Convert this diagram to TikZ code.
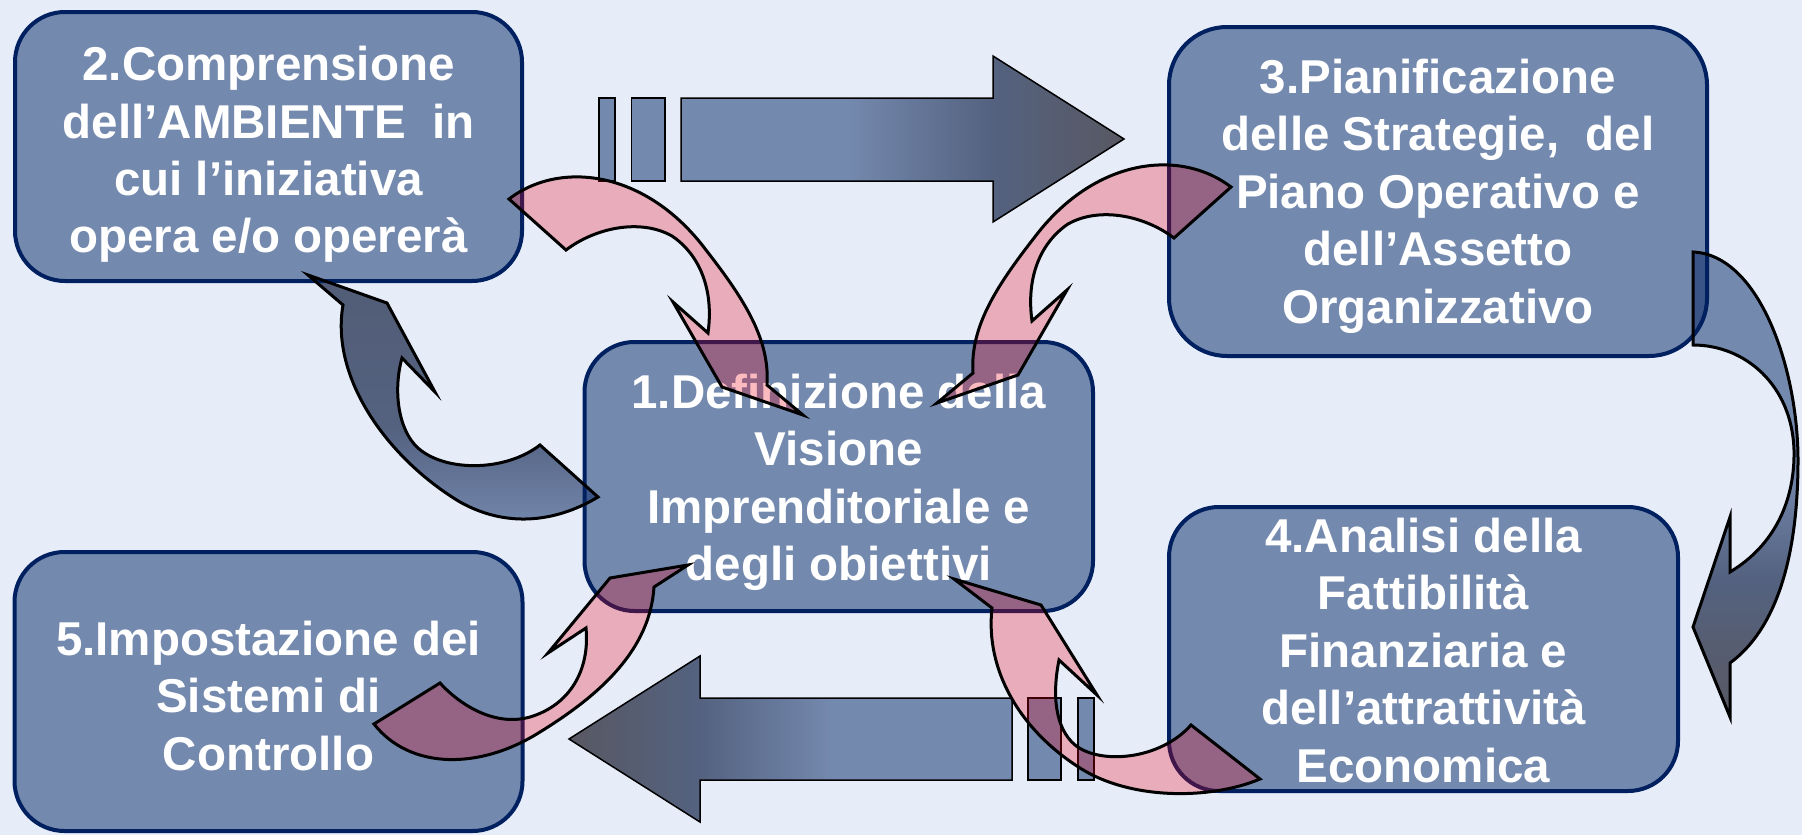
\documentclass[tikz,border=0pt]{standalone}
\usepackage{fontspec}
\setmainfont{Liberation Sans}
\definecolor{bgc}{RGB}{230,236,248}
\definecolor{boxc}{RGB}{116,137,174}
\definecolor{navy}{RGB}{0,32,96}
\definecolor{ovl}{RGB}{58,84,135}
\definecolor{tipc}{RGB}{88,88,98}
\definecolor{midc}{RGB}{84,98,128}
\definecolor{emid}{RGB}{100,117,152}
\definecolor{edark}{RGB}{82,92,118}
\definecolor{pinkc}{RGB}{240,0,20}
\pgfdeclarehorizontalshading{topshade}{100bp}{color(0bp)=(boxc); color(43.85bp)=(boxc); color(60bp)=(midc); color(75bp)=(tipc); color(100bp)=(tipc)}
\pgfdeclarehorizontalshading{botshade}{100bp}{color(0bp)=(tipc); color(25bp)=(tipc); color(39.8bp)=(midc); color(54.7bp)=(boxc); color(100bp)=(boxc)}
\pgfdeclareverticalshading{fshade}{100bp}{color(0bp)=(tipc); color(25bp)=(tipc); color(40bp)=(midc); color(52bp)=(boxc); color(100bp)=(boxc)}
\pgfdeclareverticalshading{eshade}{100bp}{color(0bp)=(boxc); color(25bp)=(boxc); color(35bp)=(emid); color(45bp)=(midc); color(75bp)=(edark); color(100bp)=(edark)}
\newcommand{\boxlines}[1]{\begin{tabular}[t]{@{}c@{}}#1\end{tabular}}
\def\pathA{(509,199) .. controls (560,160) and (646,170) .. (706,250) .. controls (745,300) and (770,340) .. (767,385) -- (803,415) -- (722,387) -- (673,302) -- (708,333) .. controls (714,290) and (700,255) .. (672,236) .. controls (640,218) and (595,228) .. (566,250) -- cycle}
\def\pathC{(374,724) .. controls (410,770) and (480,770) .. (540,732) .. controls (600,695) and (650,650) .. (654,587) -- (688,565) -- (610,578) -- (548,653) -- (586,628) .. controls (590,670) and (570,705) .. (530,717) .. controls (495,727) and (460,705) .. (440,683) -- cycle}
\def\pathD{(992,608) .. controls (985,670) and (1020,730) .. (1080,768) .. controls (1130,800) and (1210,800) .. (1260,779) -- (1191,725) .. controls (1160,760) and (1100,765) .. (1075,745) .. controls (1055,728) and (1052,695) .. (1059,660) -- (1097,695) -- (1041,605) -- (954,579) -- cycle}
\def\pathE{(343,305) .. controls (330,380) and (390,460) .. (460,502) .. controls (510,530) and (560,520) .. (598,497) -- (540,445) .. controls (505,472) and (445,472) .. (418,448) .. controls (398,430) and (393,390) .. (402,358) -- (435,392) -- (387,303) -- (308,275) -- cycle}
\def\pathF{(1693,345) -- (1693,252) .. controls (1760,255) and (1798,370) .. (1798,460) .. controls (1798,560) and (1775,630) .. (1730,663) -- (1730,717) -- (1693,627) -- (1730,517) -- (1730,572) .. controls (1775,545) and (1795,500) .. (1794,450) .. controls (1792,385) and (1745,345) .. (1693,345) -- cycle}
\begin{document}
\begin{tikzpicture}[x=1pt,y=-1pt,
  box/.style={draw=navy, fill=boxc, line width=4pt, inner sep=0pt, outer sep=0pt, rectangle},
  txt/.style={text=white, inner sep=0pt, anchor=base, font=\fontsize{47.5}{57.5}\selectfont\bfseries},
  bar/.style={fill=boxc, draw=black, line width=1.5pt},
  straight/.style={draw=black, line width=1.5pt},
  pinkarrow/.style={fill=pinkc, fill opacity=0.27, draw=black, line width=3pt},
  darkarrow/.style={draw=black, line width=3pt}]
\useasboundingbox (0,0) rectangle (1802,835);
\fill[bgc] (0,0) rectangle (1802,835);

% straight arrows
\filldraw[bar] (599,98) rectangle (615,181);
\filldraw[bar] (631.5,98) rectangle (665,181);
\shadedraw[straight, shading=topshade] (681,98) -- (993,98) -- (993,56) -- (1124,139) -- (993,222) -- (993,181) -- (681,181) -- cycle;
\filldraw[bar] (1028,698) rectangle (1061,780);
\filldraw[bar] (1078,698) rectangle (1094,780);
\shadedraw[straight, shading=botshade] (1012,698) -- (700,698) -- (700,656) -- (569,739) -- (700,822) -- (700,780) -- (1012,780) -- cycle;

% boxes
\node[box, rounded corners=50pt, minimum width=507pt, minimum height=269pt] (b2) at (268.5,146.5) {};
\node[box, rounded corners=58pt, minimum width=538pt, minimum height=329pt] (b3) at (1438,191.5) {};
\node[box, rounded corners=50pt, minimum width=508.5pt, minimum height=269pt] (b1) at (838.75,476.5) {};
\node[box, rounded corners=50pt, minimum width=509pt, minimum height=284pt] (b4) at (1423.5,649) {};
\node[box, rounded corners=50pt, minimum width=508pt, minimum height=279pt] (b5) at (268.5,691.5) {};

% texts
\node[txt] (t2) at (268.5,80.5) {\boxlines{2.Comprensione\\dell’AMBIENTE~ in\\cui l’iniziativa\\opera e/o opererà}};
\node[txt] (t3) at (1438,93) {\boxlines{3.Pianificazione\\delle Strategie,~ del\\Piano Operativo e\\dell’Assetto\\Organizzativo}};
\node[txt] (t1) at (838.75,408) {\boxlines{1.Definizione della\\Visione\\Imprenditoriale e\\degli obiettivi}};
\node[txt] (t4) at (1423.5,552) {\boxlines{4.Analisi della\\Fattibilità\\Finanziaria e\\dell’attrattività\\Economica}};
\node[txt] (t5) at (268.5,655) {\boxlines{5.Impostazione dei\\Sistemi di\\Controllo}};

% dark curved arrow E (1 -> 2)
\shade[shading=eshade] \pathE;
\begin{scope}
  \clip \pathE;
  \fill[ovl, rounded corners=50pt] (b1.south west) rectangle (b1.north east);
  \draw[navy, line width=4pt, rounded corners=50pt] (b1.south west) rectangle (b1.north east);
  \fill[ovl, rounded corners=50pt] (b2.south west) rectangle (b2.north east);
  \draw[navy, line width=4pt, rounded corners=50pt] (b2.south west) rectangle (b2.north east);
\end{scope}
\draw[darkarrow] \pathE;

% dark curved arrow F (3 -> 4)
\shade[shading=fshade] \pathF;
\begin{scope}
  \clip \pathF;
  \fill[ovl, rounded corners=58pt] (b3.south west) rectangle (b3.north east);
  \draw[navy, line width=4pt, rounded corners=58pt] (b3.south west) rectangle (b3.north east);
\end{scope}
\draw[darkarrow] \pathF;

% pink curved arrows into box 1
\path[pinkarrow] \pathA;
\begin{scope}[xshift=1740pt, yshift=12pt, xscale=-1]
  \path[pinkarrow] \pathA;
\end{scope}
\path[pinkarrow] \pathC;
\path[pinkarrow] \pathD;
\end{tikzpicture}
\end{document}
